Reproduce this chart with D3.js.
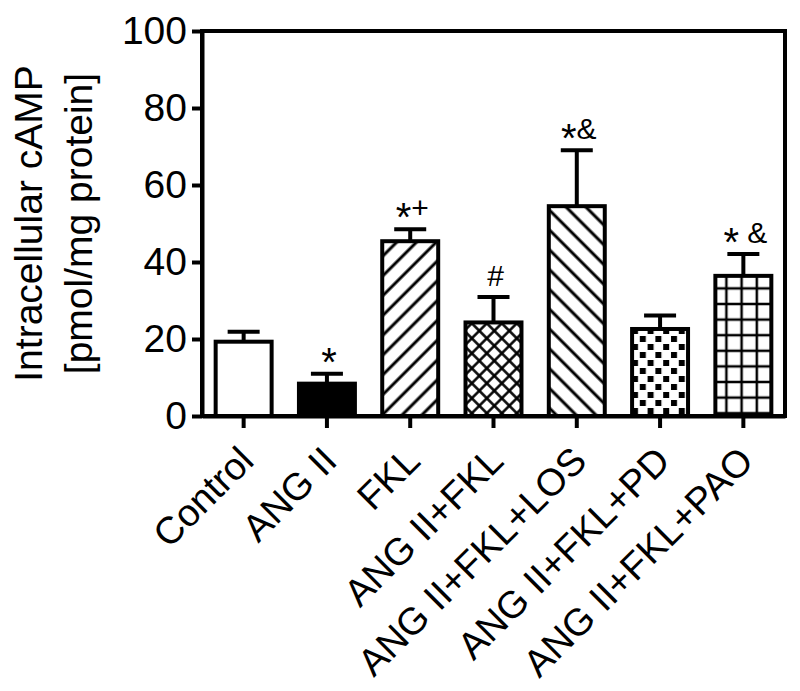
<!DOCTYPE html>
<html>
<head>
<meta charset="utf-8">
<script src="https://cdn.jsdelivr.net/npm/d3@7"></script>
<style>
  body { margin: 0; background: #fff; }
  svg text { font-family: "Liberation Sans", Arial, Helvetica, sans-serif; fill: #000; }
</style>
</head>
<body>
<div id="chart"></div>
<script>
// values (pmol/mg protein)
var categories = ["Control", "ANG II", "FKL", "ANG II+FKL", "ANG II+FKL+LOS", "ANG II+FKL+PD", "ANG II+FKL+PAO"];
var means = [19.3, 8.4, 45.4, 24.3, 54.5, 22.6, 36.4];
var errorTops = [21.9, 11.0, 48.5, 30.9, 69.0, 26.1, 42.1];
var marks = ["", "*", "*+", "#", "*&", "", "* &"];
var yTicks = [0, 20, 40, 60, 80, 100];
var yLabel = ["Intracellular cAMP", "[pmol/mg protein]"];

var margin = { top: 31, right: 15, bottom: 275, left: 202 };
var width = 800 - margin.left - margin.right;
var height = 691 - margin.top - margin.bottom;

var svg = d3.select("#chart")
  .append("svg")
  .attr("width", 800)
  .attr("height", 691);

// hatch patterns for the bars
var defs = svg.append("defs");

function linePattern(id, size, angle) {
  var p = defs.append("pattern")
    .attr("id", id)
    .attr("patternUnits", "userSpaceOnUse")
    .attr("width", size)
    .attr("height", size)
    .attr("patternTransform", "rotate(" + angle + ")");
  p.append("rect").attr("width", size).attr("height", size).attr("fill", "#fff");
  p.append("line")
    .attr("x1", size / 2).attr("y1", 0)
    .attr("x2", size / 2).attr("y2", size)
    .attr("stroke", "#000").attr("stroke-width", 3);
  return p;
}
linePattern("hatchUp", 14, 45);
linePattern("hatchDown", 14, -45);

var cross = defs.append("pattern")
  .attr("id", "cross")
  .attr("patternUnits", "userSpaceOnUse")
  .attr("width", 10.6)
  .attr("height", 10.6)
  .attr("patternTransform", "rotate(45)");
cross.append("rect").attr("width", 10.6).attr("height", 10.6).attr("fill", "#fff");
cross.append("line").attr("x1", 5.3).attr("y1", 0).attr("x2", 5.3).attr("y2", 10.6)
  .attr("stroke", "#000").attr("stroke-width", 2.5);
cross.append("line").attr("x1", 0).attr("y1", 5.3).attr("x2", 10.6).attr("y2", 5.3)
  .attr("stroke", "#000").attr("stroke-width", 2.5);

var dots = defs.append("pattern")
  .attr("id", "dots")
  .attr("patternUnits", "userSpaceOnUse")
  .attr("width", 15.6)
  .attr("height", 16);
dots.append("rect").attr("width", 15.6).attr("height", 16).attr("fill", "#fff");
dots.append("rect").attr("x", 1).attr("y", 1).attr("width", 6).attr("height", 6).attr("fill", "#000");
dots.append("rect").attr("x", 8.8).attr("y", 9).attr("width", 6).attr("height", 6).attr("fill", "#000");

var grid = defs.append("pattern")
  .attr("id", "grid")
  .attr("patternUnits", "userSpaceOnUse")
  .attr("width", 15.2)
  .attr("height", 15.6);
grid.append("rect").attr("width", 15.2).attr("height", 15.6).attr("fill", "#fff");
grid.append("line").attr("x1", 7.6).attr("y1", 0).attr("x2", 7.6).attr("y2", 15.6)
  .attr("stroke", "#000").attr("stroke-width", 2.5);
grid.append("line").attr("x1", 0).attr("y1", 7.8).attr("x2", 15.2).attr("y2", 7.8)
  .attr("stroke", "#000").attr("stroke-width", 2.5);

var fills = ["#fff", "#000", "url(#hatchUp)", "url(#cross)", "url(#hatchDown)", "url(#dots)", "url(#grid)"];

var g = svg.append("g")
  .attr("transform", "translate(" + margin.left + "," + margin.top + ")");

var x = d3.scaleBand()
  .domain(categories)
  .range([0, width])
  .paddingInner(0.28)
  .paddingOuter(0.14);

var y = d3.scaleLinear()
  .domain([0, 100])
  .range([height, 0]);

// error bars (upper only) go under the bars
var errs = g.selectAll(".err")
  .data(categories)
  .enter().append("g")
  .attr("class", "err")
  .attr("stroke", "#000")
  .attr("stroke-width", 4);
errs.append("line")
  .attr("x1", function(d) { return x(d) + x.bandwidth() / 2; })
  .attr("x2", function(d) { return x(d) + x.bandwidth() / 2; })
  .attr("y1", function(d, i) { return y(means[i]); })
  .attr("y2", function(d, i) { return y(errorTops[i]); });
errs.append("line")
  .attr("x1", function(d) { return x(d) + x.bandwidth() / 2 - 16; })
  .attr("x2", function(d) { return x(d) + x.bandwidth() / 2 + 16; })
  .attr("y1", function(d, i) { return y(errorTops[i]); })
  .attr("y2", function(d, i) { return y(errorTops[i]); });

g.selectAll(".bar")
  .data(categories)
  .enter().append("rect")
  .attr("class", "bar")
  .attr("x", function(d) { return x(d) + 2; })
  .attr("width", x.bandwidth() - 4)
  .attr("y", function(d, i) { return y(means[i]); })
  .attr("height", function(d, i) { return height - y(means[i]); })
  .attr("fill", function(d, i) { return fills[i]; })
  .attr("stroke", "#000")
  .attr("stroke-width", 4);

// significance marks, the star sits lower than the other glyphs
var markText = g.selectAll(".mark")
  .data(categories)
  .enter().append("text")
  .attr("class", "mark")
  .attr("text-anchor", "middle")
  .attr("x", function(d) { return x(d) + x.bandwidth() / 2 + 2; })
  .attr("y", function(d, i) { return y(errorTops[i]) - 11; })
  .style("font-size", "30px");
markText.each(function(d, i) {
  var t = d3.select(this);
  var shift = 0;
  marks[i].split("").forEach(function(ch) {
    if (ch === "*") {
      t.append("tspan").attr("dy", 13 - shift).style("font-size", "40px").text(ch);
      shift = 13;
    } else {
      t.append("tspan").attr("dy", -shift).text(ch);
      shift = 0;
    }
  });
});

// frame
g.append("rect")
  .attr("width", width)
  .attr("height", height)
  .attr("fill", "none")
  .attr("stroke", "#000")
  .attr("stroke-width", 4);

var yAxis = g.append("g")
  .call(d3.axisLeft(y).tickValues(yTicks).tickSize(10).tickPadding(5).tickSizeOuter(0));
yAxis.select(".domain").attr("stroke-width", 4);
yAxis.selectAll(".tick line").attr("stroke-width", 4);
yAxis.selectAll(".tick text").style("font-size", "39px").attr("font-family", null);

var xAxis = g.append("g")
  .attr("transform", "translate(0," + height + ")")
  .call(d3.axisBottom(x).tickSize(12).tickSizeOuter(0));
xAxis.select(".domain").attr("stroke-width", 4);
xAxis.selectAll(".tick line").attr("stroke-width", 4);
xAxis.selectAll(".tick text")
  .style("font-size", "38px")
  .attr("font-family", null)
  .attr("text-anchor", "end")
  .attr("dy", null)
  .attr("y", 0)
  .attr("transform", "translate(12,47) rotate(-45)");

var label = svg.append("text")
  .attr("transform", "translate(0," + (margin.top + height / 2) + ") rotate(-90)")
  .attr("text-anchor", "middle")
  .style("font-size", "39px");
label.append("tspan").attr("x", 0).attr("y", 42).text(yLabel[0]);
label.append("tspan").attr("x", 0).attr("y", 92).text(yLabel[1]);
</script>
</body>
</html>
